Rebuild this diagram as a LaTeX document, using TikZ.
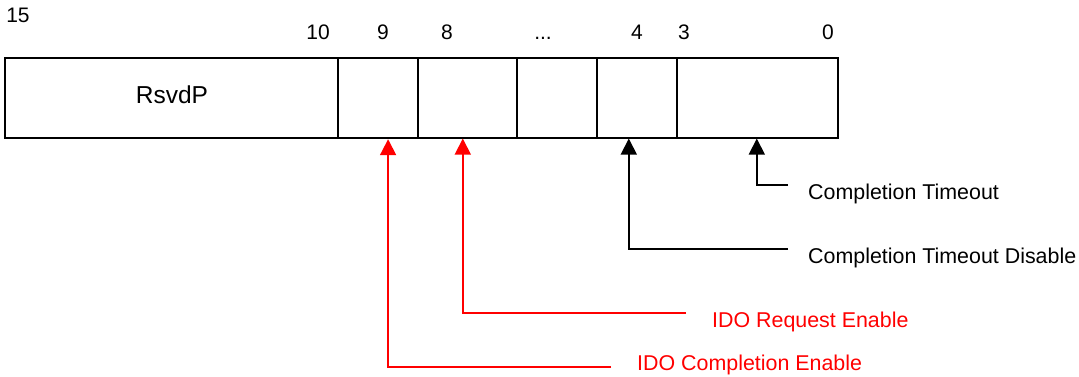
\documentclass[tikz,border=0pt]{standalone}
\usepackage{fontspec}
\setmainfont{Liberation Sans}
\usetikzlibrary{arrows.meta}
\begin{document}
\begin{tikzpicture}[x=1pt,y=-1pt,
  cell/.style={draw=black,line width=1.6pt,minimum height=80pt,inner sep=0pt,anchor=north west},
  num/.style={anchor=base,inner sep=0pt,font=\fontsize{21}{25}\selectfont},
  lbl/.style={anchor=base west,inner sep=0pt,font=\fontsize{21.4}{25}\selectfont},
  conn/.style={line width=1.8pt,-{Triangle[width=16pt,length=16pt]}},
  blk/.style={conn,draw=black},
  redc/.style={conn,draw=red}]
\useasboundingbox (0,0) rectangle (1079,377);
% register cells
\node[cell,minimum width=333pt] (rsvd) at (4,57) {};
\node[cell,minimum width=99pt] (c8) at (417,57) {};
\node[cell,minimum width=80pt] (cd) at (516,57) {};
\node[cell,minimum width=80pt] (c4) at (596,57) {};
\node[cell,minimum width=161pt] (c30) at (676,57) {};
\node[cell,minimum width=80pt,line width=2.2pt] (c9) at (337,57) {};
\node[anchor=base,inner sep=0pt,font=\fontsize{24.5}{28}\selectfont] (rtxt) at (172,104) {RsvdP};
% bit numbers
\node[num] (n15) at (18,23) {15};
\node[num] (n10) at (318,40) {10};
\node[num] (n9) at (383,40) {9};
\node[num] (n8) at (447,40) {8};
\node[num] (ndots) at (543,40) {...};
\node[num] (n4) at (637,40) {4};
\node[num] (n3) at (684,40) {3};
\node[num] (n0) at (828,40) {0};
% labels
\node[lbl] (lct) at (808,200) {Completion Timeout};
\node[lbl] (lctd) at (808,263) {Completion Timeout Disable};
\node[lbl,text=red] (lreq) at (712,327) {IDO Request Enable};
\node[lbl,text=red] (lcomp) at (637,370) {IDO Completion Enable};
% connector ends
\coordinate (ect) at (788,185);
\coordinate (ectd) at (788,249);
\coordinate (ereq) at (686,313);
\coordinate (ecomp) at (611,367);
% connectors
\draw[blk] (ect) -| ([xshift=-0.5pt]c30.south);
\draw[blk] (ectd) -| ([xshift=-8pt]c4.south);
\draw[redc] (ereq) -| ([xshift=-4.5pt]c8.south);
\draw[redc] (ecomp) -| ([xshift=10pt]c9.south);
\end{tikzpicture}
\end{document}
